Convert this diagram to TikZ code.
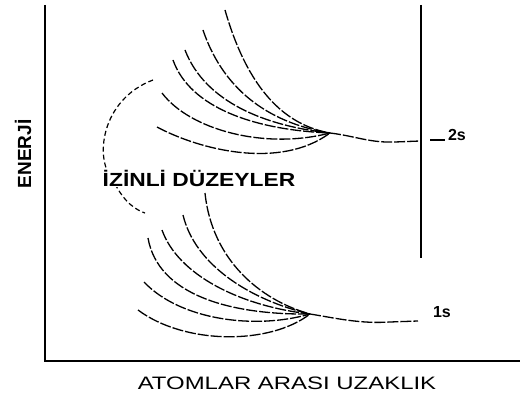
\documentclass[tikz,border=0pt]{standalone}
\usepackage{fontspec}
\setmainfont{Liberation Sans}
\begin{document}
\begin{tikzpicture}[x=1pt,y=-1pt,
  axis/.style={line width=1.4pt,black},
  lvl/.style={line width=1.3pt,black,dash pattern=on 11pt off 2pt},
  loop/.style={line width=1.2pt,black,dash pattern=on 5pt off 3pt},
  lbl/.style={font=\bfseries\fontsize{16}{16}\selectfont,inner sep=0pt}]
\useasboundingbox (0,0) rectangle (523,396);
% axes
\coordinate (o) at (45,361);
\coordinate (ytop) at (45,5);
\coordinate (xend) at (520,361);
\draw[axis] (ytop) -- (o) -- (xend);
% vertical line
\coordinate (vt) at (421,5);
\coordinate (vb) at (421,258);
\draw[line width=1.2pt] (vt) -- (vb);
% convergence points
\coordinate (C2) at (330,133);
\coordinate (C1) at (310,314);
% upper band
\draw[lvl] (225,10) .. controls (248,90) and (285,125) .. (C2);
\draw[lvl] (203,30) .. controls (225,95) and (275,124) .. (C2);
\draw[lvl] (185,50) .. controls (205,102) and (265,126) .. (C2);
\draw[lvl] (173,60) .. controls (190,108) and (255,130) .. (C2);
\draw[lvl] (162,93) .. controls (190,130) and (265,150) .. (C2);
\draw[lvl] (157,127) .. controls (200,150) and (280,170) .. (C2);
\draw[lvl] (C2) .. controls (355,136) and (370,143) .. (395,142) -- (420,141);
\coordinate (d2a) at (430,140);
\coordinate (d2b) at (445,140);
\draw[line width=1.2pt] (d2a) -- (d2b);
\node[lbl] (l2s) at (457,135) {2s};
% lower band
\draw[lvl] (205,193) .. controls (212,260) and (260,300) .. (C1);
\draw[lvl] (183,215) .. controls (195,265) and (250,300) .. (C1);
\draw[lvl] (162,230) .. controls (178,275) and (240,306) .. (C1);
\draw[lvl] (148,238) .. controls (158,295) and (230,315) .. (C1);
\draw[lvl] (144,282) .. controls (180,320) and (255,330) .. (C1);
\draw[lvl] (138,310) .. controls (185,345) and (270,345) .. (C1);
\draw[lvl] (C1) .. controls (335,318) and (360,324) .. (390,322) -- (418,321);
\node[lbl] (l1s) at (442,312) {1s};
% left loop
\draw[loop] (153,80) .. controls (100,100) and (95,160) .. (112,178)
  .. controls (120,195) and (130,208) .. (145,213);
\node[fill=white,inner sep=1pt,font=\bfseries\fontsize{19}{19}\selectfont,xscale=1.2] (izin) at (199,178) {İZİNLİ DÜZEYLER};
% axis labels
\node[rotate=90,font=\bfseries\fontsize{19}{19}\selectfont,inner sep=0pt] (en) at (23,154) {ENERJİ};
\node[font=\fontsize{18}{18}\selectfont,xscale=1.33,inner sep=0pt] (at) at (287,383) {ATOMLAR ARASI UZAKLIK};
\end{tikzpicture}
\end{document}
